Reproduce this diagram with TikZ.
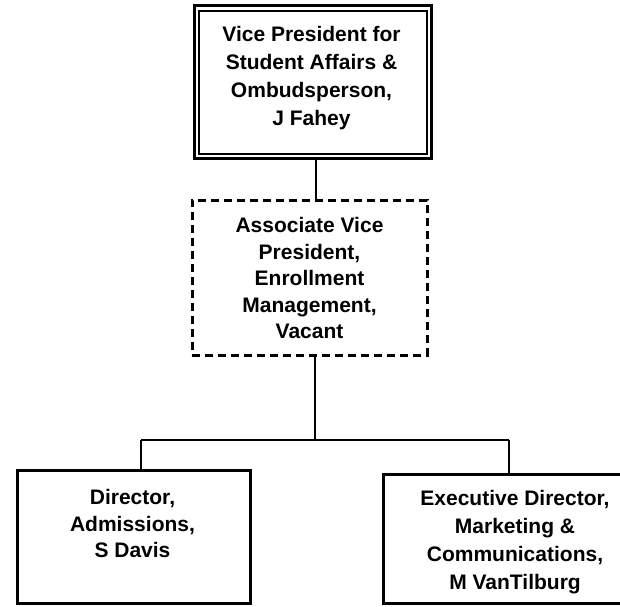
\documentclass[tikz,border=0pt]{standalone}
\usepackage{fontspec}
\setmainfont{Liberation Sans}
\begin{document}
\begin{tikzpicture}[x=1pt,y=-1pt,
  lbl/.style={font=\fontsize{21}{26.5}\selectfont\bfseries, align=center, inner sep=0pt, anchor=base},
  lblw/.style={font=\fontsize{21}{28}\selectfont\bfseries, align=center, inner sep=0pt, anchor=base},
  box/.style={draw, line width=3pt, inner sep=0pt},
  conn/.style={draw, line width=2.4pt}]
\useasboundingbox (0,0) rectangle (620,606);
\clip (0,0) rectangle (620,606);
% top box (double frame)
\node[box, line width=3pt, minimum width=237pt, minimum height=153pt] (vp) at (312.5,82) {};
\draw[line width=2pt] (198.5,11) rectangle (427,154);
\node[lblw] (vpt) at (311.5,125.5) {Vice President for\\Student Affairs \&\\Ombudsperson,\\J Fahey};
% dashed box
\node[box, dash pattern=on 8pt off 5pt, line width=3pt, minimum width=235pt, minimum height=155pt] (avp) at (309.5,277.5) {};
\node[lbl] (avpt) at (309.5,338.5) {Associate Vice\\President,\\Enrollment\\Management,\\Vacant};
% bottom boxes
\node[box, minimum width=233pt, minimum height=133pt] (dir) at (133.5,536.5) {};
\node[lbl] (dirt) at (132.5,557.5) {Director,\\Admissions,\\S Davis};
\node[box, minimum width=264pt, minimum height=129pt] (exd) at (515,538.5) {};
\node[lblw] (exdt) at (515,589.5) {Executive Director,\\Marketing \&\\Communications,\\M VanTilburg};
% connectors
\coordinate (j) at (315,440);
\coordinate (jl) at (141,440);
\coordinate (jr) at (509,440);
\draw[conn] (vp.south -| 316,0) -- (avp.north -| 316,0);
\draw[conn] (avp.south -| j) -- (j);
\draw[conn] (jl) -- (jr);
\draw[conn] (jl) -- (dir.north -| jl);
\draw[conn] (jr) -- (exd.north -| jr);
\end{tikzpicture}
\end{document}
